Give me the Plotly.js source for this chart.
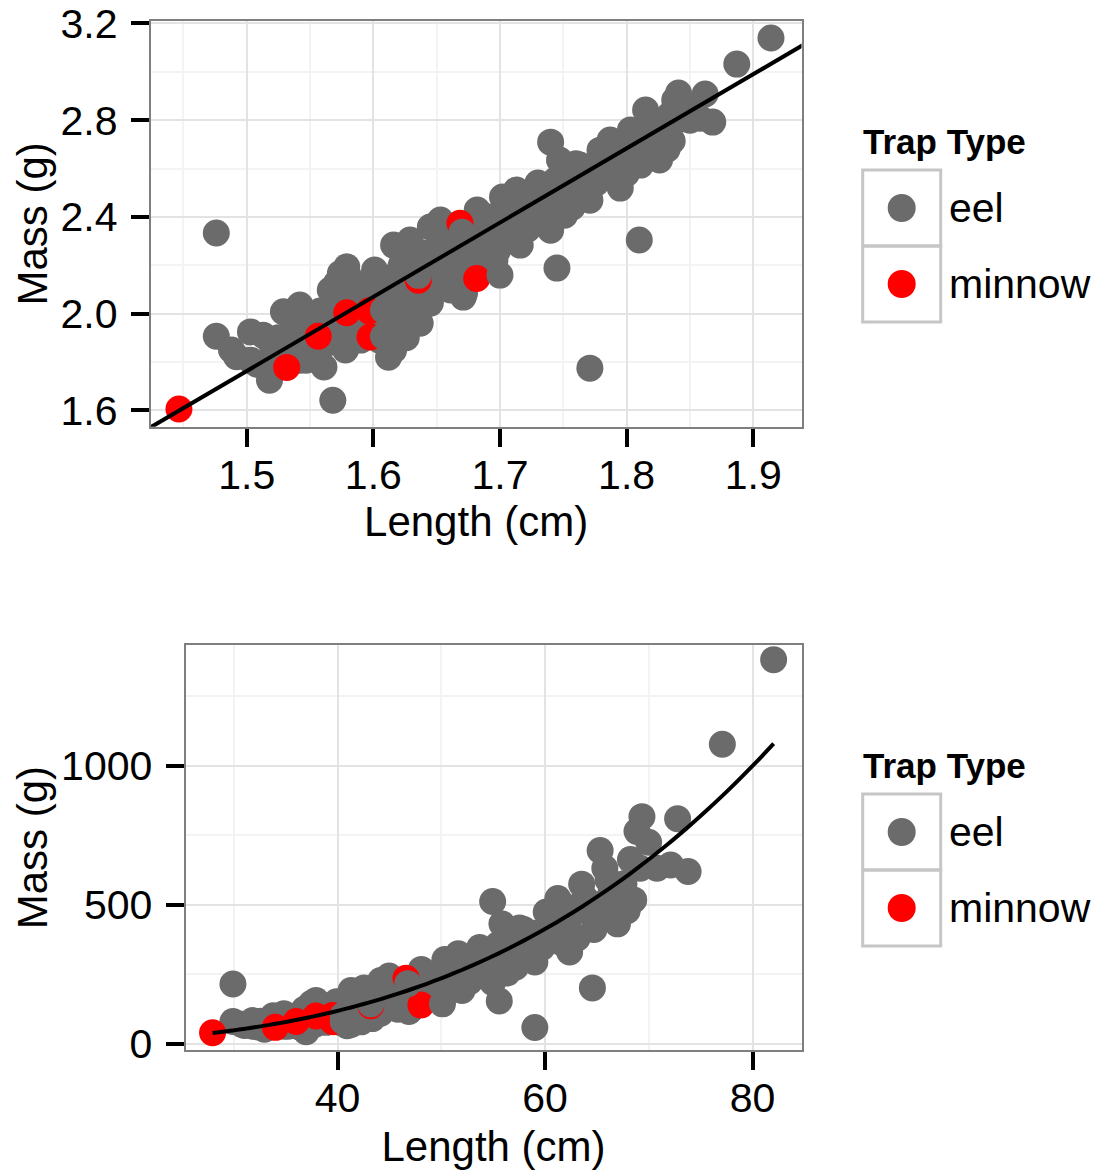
<!DOCTYPE html>
<html><head><meta charset="utf-8">
<script src="https://cdn.plot.ly/plotly-3.0.1.min.js"></script>
<style>html,body{margin:0;padding:0;background:#fff;} #chart{width:1101px;height:1170px;}</style>
</head><body><div id="chart"></div>
<script>
// ---- data (log10 length in cm, log10 mass in g) ----
const eelLogLength = [
1.476,1.476,1.488,1.492,1.503,1.503,1.508,1.513,1.518,1.520,
1.529,1.530,1.537,1.538,1.542,1.542,1.547,1.550,1.561,1.563,
1.566,1.566,1.568,1.571,1.574,1.578,1.579,1.580,1.582,1.586,
1.590,1.597,1.600,1.601,1.605,1.609,1.612,1.613,1.616,1.616,
1.621,1.625,1.629,1.629,1.633,1.637,1.637,1.641,1.645,1.645,
1.645,1.653,1.653,1.657,1.661,1.664,1.666,1.671,1.672,1.672,
1.676,1.682,1.682,1.684,1.692,1.696,1.702,1.704,1.708,
1.712,1.713,1.716,1.720,1.724,1.732,1.736,1.740,1.740,1.744,
1.745,1.747,1.747,1.751,1.755,1.759,1.763,1.767,1.771,1.771,
1.775,1.779,1.783,1.787,1.791,1.795,1.803,1.807,1.810,1.811,
1.815,1.818,1.822,1.826,1.834,1.836,1.838,1.841,1.850,1.858,
1.862,1.868,1.887,1.914,
1.520,1.525,1.535,1.545,1.552,1.555,1.558,1.560,1.570,1.575,
1.580,1.585,1.592,1.595,1.603,1.607,1.610,1.615,1.618,1.622,
1.626,1.632,1.635,1.640,1.648,1.650,1.655,1.660,1.665,1.668,
1.675,1.678,1.686,1.690,1.694,1.698,1.705,1.710,1.718,1.722,
1.727,1.730,1.738,1.742,1.748,1.753,1.757,1.762,1.766,1.770,
1.776,1.780,1.785,1.790,1.794,1.798,1.800,1.805,1.812,1.816,
1.820,1.825,1.830,1.832,1.840,1.845,1.730,1.760,1.790
];
const eelLogMass = [
2.333,1.906,1.849,1.821,1.924,1.807,1.790,1.910,1.724,1.870,
2.007,1.869,1.849,1.931,2.035,1.807,1.807,1.890,1.779,1.876,
2.097,1.985,1.641,2.126,2.166,1.849,2.193,2.159,2.055,1.973,
1.890,2.097,2.151,2.180,1.890,2.055,1.819,1.952,2.283,1.848,
1.973,2.035,2.304,2.117,2.262,2.014,1.960,2.180,2.358,2.055,
2.043,2.387,2.304,2.200,2.097,2.345,2.221,2.068,2.262,2.084,
2.159,2.428,2.209,2.366,2.304,2.221,2.482,2.407,2.449,
2.345,2.511,2.283,2.490,2.407,2.511,2.428,2.345,2.709,2.552,
2.188,2.469,2.635,2.407,2.573,2.490,2.614,2.531,2.469,1.774,
2.593,2.676,2.635,2.718,2.656,2.519,2.759,2.676,2.304,2.614,
2.842,2.800,2.738,2.635,2.821,2.714,2.883,2.912,2.800,2.808,
2.908,2.792,3.032,3.140,
1.800,1.900,1.880,1.950,1.960,1.840,2.010,1.920,1.900,2.020,
1.950,2.100,2.020,1.940,2.100,2.000,1.920,2.150,2.080,2.200,
1.900,2.150,2.080,2.250,2.200,2.130,2.260,2.160,2.300,2.190,
2.330,2.250,2.300,2.400,2.350,2.260,2.330,2.400,2.450,2.350,
2.460,2.390,2.480,2.420,2.530,2.480,2.440,2.560,2.500,2.600,
2.540,2.620,2.580,2.700,2.620,2.680,2.580,2.720,2.700,2.660,
2.770,2.700,2.760,2.680,2.800,2.860,2.540,2.620,2.560
];
const minnowLogLength = [1.4465,1.5316,1.5565,1.579,1.5968,1.5974,1.6355,1.6684,1.6816];
const minnowLogMass   = [1.605,1.777,1.906,2.003,2.011,1.903,2.138,2.373,2.145];
// eel fish that sit on top of minnow fish in the drawing order
const eelLateLogLength = [1.608,1.6355,1.670,1.608,1.700];
const eelLateLogMass   = [1.906,2.158,2.336,2.014,2.159];

// fitted allometric relation: log10(mass) = intercept + slope * log10(length)
const fitIntercept = -2.843;
const fitSlope = 3.07;

const topXTicks = [1.5, 1.6, 1.7, 1.8, 1.9];
const topYTicks = [1.6, 2.0, 2.4, 2.8, 3.2];
const bottomXTicks = [40, 60, 80];
const bottomYTicks = [0, 500, 1000];
const trapTypes = ['eel', 'minnow'];
const legendTitle = 'Trap Type';
const axisTitleX = 'Length (cm)';
const axisTitleY = 'Mass (g)';

// ---- styling ----
const FONT = 'Liberation Sans, Arial, Helvetica, sans-serif';
const W = 1101, H = 1170;
const COLORS = {eel: '#6b6b6b', minnow: '#ff0000'};
const MSIZE = 27;
const px = v => v / W;
const py = v => 1 - v / H;
const pow10 = arr => arr.map(v => Math.pow(10, v));

const topXRange = [1.4242, 1.9381];
const topYRange = [1.5317, 3.2103];
const botXRange = [25.35, 84.72];
const botYRange = [-21.6, 1432];

// fitted lines
const nLine = 80;
const topLineX = [], topLineY = [];
for (let i = 0; i <= nLine; i++) {
  const lx = topXRange[0] - 0.02 + (topXRange[1] - topXRange[0] + 0.04) * i / nLine;
  topLineX.push(lx); topLineY.push(fitIntercept + fitSlope * lx);
}
const allLogLength = eelLogLength.concat(minnowLogLength, eelLateLogLength);
const minLen = Math.min(...allLogLength), maxLen = Math.max(...allLogLength);
const botLineX = [], botLineY = [];
for (let i = 0; i <= nLine; i++) {
  const lx = minLen + (maxLen - minLen) * i / nLine;
  botLineX.push(Math.pow(10, lx)); botLineY.push(Math.pow(10, fitIntercept + fitSlope * lx));
}

function pts(x, y, color, xa, ya, name) {
  return {type: 'scatter', mode: 'markers', x: x, y: y, xaxis: xa, yaxis: ya, name: name,
    showlegend: false, hoverinfo: 'skip',
    marker: {size: MSIZE, color: color, line: {width: 0}}};
}
const traces = [
  pts(eelLogLength, eelLogMass, COLORS.eel, 'x', 'y', 'eel'),
  pts(minnowLogLength, minnowLogMass, COLORS.minnow, 'x', 'y', 'minnow'),
  pts(eelLateLogLength, eelLateLogMass, COLORS.eel, 'x', 'y', 'eel'),
  {type: 'scatter', mode: 'lines', x: topLineX, y: topLineY, xaxis: 'x', yaxis: 'y',
   line: {color: '#000', width: 4}, showlegend: false, hoverinfo: 'skip'},
  pts(pow10(eelLogLength), pow10(eelLogMass), COLORS.eel, 'x2', 'y2', 'eel'),
  pts(pow10(minnowLogLength), pow10(minnowLogMass), COLORS.minnow, 'x2', 'y2', 'minnow'),
  pts(pow10(eelLateLogLength), pow10(eelLateLogMass), COLORS.eel, 'x2', 'y2', 'eel'),
  {type: 'scatter', mode: 'lines', x: botLineX, y: botLineY, xaxis: 'x2', yaxis: 'y2',
   line: {color: '#000', width: 4, shape: 'spline'}, showlegend: false, hoverinfo: 'skip'}
];

function axis(extra) {
  return Object.assign({
    ticks: 'outside', ticklen: 18, tickwidth: 4, tickcolor: '#000',
    showline: true, mirror: true, linecolor: '#7f7f7f', linewidth: 2,
    showgrid: true, gridcolor: '#e3e3e3', gridwidth: 2, zeroline: false,
    tickfont: {family: FONT, size: 41, color: '#000'},
    automargin: false, fixedrange: true,
    layer: 'above traces'
  }, extra);
}
function title(t, st) { return {text: t, font: {family: FONT, size: 42, color: '#000'}, standoff: st}; }

const layout = {
  width: W, height: H,
  margin: {l: 0, r: 0, t: 0, b: 0},
  paper_bgcolor: '#fff', plot_bgcolor: '#fff',
  font: {family: FONT, color: '#000'},
  showlegend: false,
  xaxis: axis({domain: [px(150.7), px(801.5)], range: topXRange, anchor: 'y',
    tickvals: topXTicks, ticktext: topXTicks.map(v => v.toFixed(1)), ticklabelstandoff: -7,
    minor: {dtick: 0.05, tick0: 1.45, showgrid: true, gridcolor: '#f3f3f3', gridwidth: 2, ticks: ''},
    title: title(axisTitleX, 6)}),
  yaxis: axis({domain: [py(426.7), py(21)], range: topYRange, anchor: 'x',
    tickvals: topYTicks, ticktext: topYTicks.map(v => v.toFixed(1)), ticklabelstandoff: 5,
    minor: {dtick: 0.2, tick0: 1.8, showgrid: true, gridcolor: '#f3f3f3', gridwidth: 2, ticks: ''},
    title: title(axisTitleY, 0)}),
  xaxis2: axis({domain: [px(185.5), px(801.5)], range: botXRange, anchor: 'y2',
    tickvals: bottomXTicks, ticktext: bottomXTicks.map(String), ticklabelstandoff: -7,
    minor: {dtick: 10, tick0: 30, showgrid: true, gridcolor: '#f3f3f3', gridwidth: 2, ticks: ''},
    title: title(axisTitleX, 17)}),
  yaxis2: axis({domain: [py(1050), py(645.3)], range: botYRange, anchor: 'x2',
    tickvals: bottomYTicks, ticktext: bottomYTicks.map(String), ticklabelstandoff: 5,
    minor: {dtick: 250, tick0: 250, showgrid: true, gridcolor: '#f3f3f3', gridwidth: 2, ticks: ''},
    title: title(axisTitleY, 0)}),
  shapes: [], annotations: []
};

// hand-built ggplot style legends (one per panel)
[0, 624].forEach(off => {
  const boxTop = 170 + off, boxH = 76;
  trapTypes.forEach((t, i) => {
    const y0 = boxTop + i * boxH, y1 = y0 + boxH;
    layout.shapes.push({type: 'rect', xref: 'paper', yref: 'paper',
      x0: px(862.7), x1: px(940.7), y0: py(y1), y1: py(y0),
      line: {color: '#c6c6c6', width: 3}, fillcolor: 'rgba(0,0,0,0)'});
    const cy = y0 + boxH / 2, cx = 901.7, r = 14;
    layout.shapes.push({type: 'circle', xref: 'paper', yref: 'paper',
      x0: px(cx - r), x1: px(cx + r), y0: py(cy + r), y1: py(cy - r),
      line: {width: 0}, fillcolor: COLORS[t]});
    layout.annotations.push({xref: 'paper', yref: 'paper', x: px(947), y: py(cy),
      xanchor: 'left', yanchor: 'middle', showarrow: false, text: t,
      font: {family: FONT, size: 41, color: '#000'}});
  });
  layout.annotations.push({xref: 'paper', yref: 'paper', x: px(861), y: py(141 + off),
    xanchor: 'left', yanchor: 'middle', showarrow: false, text: '<b>' + legendTitle + '</b>',
    font: {family: FONT, size: 35, color: '#000'}});
});

Plotly.newPlot('chart', traces, layout, {staticPlot: true, displayModeBar: false});
</script>
</body></html>
